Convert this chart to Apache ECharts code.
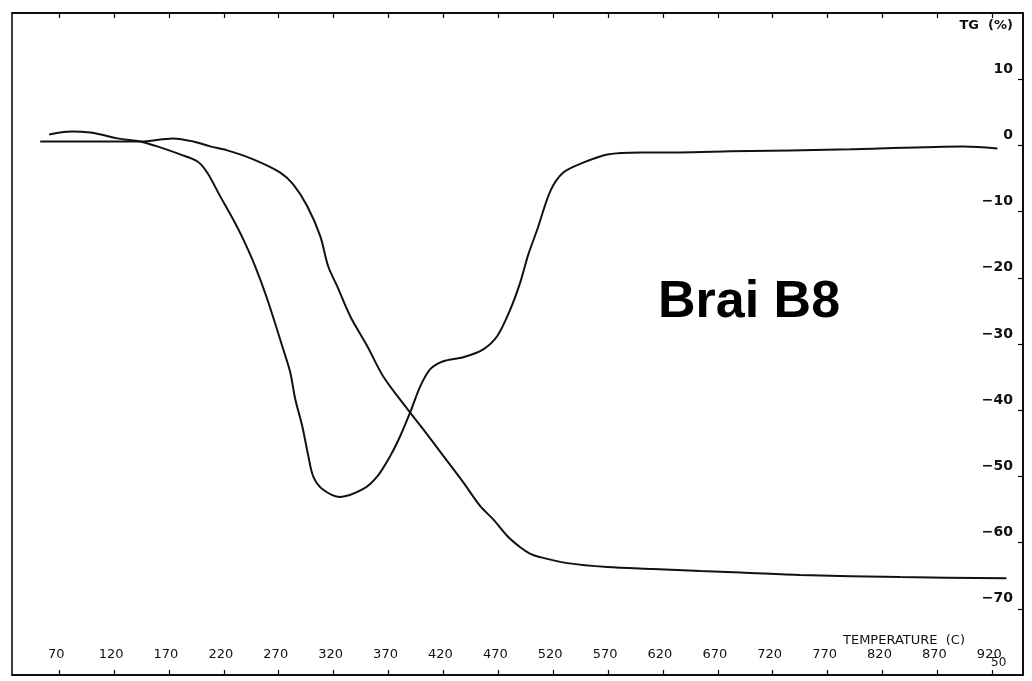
<!DOCTYPE html>
<html>
<head>
<meta charset="utf-8">
<script src="https://cdn.jsdelivr.net/npm/echarts@6/dist/echarts.min.js"></script>
<style>
html,body{margin:0;padding:0;background:#fff;}
#chart{width:1032px;height:681px;}
</style>
</head>
<body>
<div id="chart"></div>
<script>
// TG curve (mass, %) vs temperature (C)
const tgTemp  = [52.7, 70.9, 107.4, 143.8, 173.9, 192.1, 207.6, 223.1, 246.8, 271.4, 283.2, 296.0, 307.8, 315.1, 323.3, 335.1, 350.6, 365.2, 387.1, 401.7, 419.9, 438.1, 453.6, 465.4, 478.2, 490.0, 499.2, 508.3, 532.9, 569.3, 611.2, 654.1, 690.5, 745.2, 836.3, 932.9];
const tgValue = [0.6, 0.6, 0.6, 0.6, 1.06, 0.6, -0.15, -0.75, -2.1, -4.1, -5.9, -9.2, -13.7, -18.3, -21.3, -25.8, -30.3, -34.9, -39.8, -42.9, -46.9, -50.9, -54.5, -56.5, -59.0, -60.7, -61.7, -62.2, -63.1, -63.7, -64.0, -64.3, -64.5, -64.9, -65.2, -65.4];
// DTG-like curve
const dtgTemp  = [60.9, 70.9, 81.8, 98.2, 111.9, 122.8, 143.8, 162.0, 180.2, 195.7, 204.8, 216.7, 228.5, 237.7, 248.6, 259.5, 274.1, 280.5, 285.0, 291.4, 296.9, 301.4, 309.6, 326.0, 347.0, 359.8, 371.6, 380.7, 389.8, 398.9, 408.0, 419.9, 438.1, 456.3, 469.1, 480.9, 490.0, 497.3, 505.5, 517.4, 529.2, 547.4, 569.3, 599.4, 635.8, 681.4, 790.7, 893.7, 924.7];
const dtgValue = [1.66, 1.96, 2.11, 1.96, 1.5, 1.06, 0.6, -0.3, -1.36, -2.4, -4.1, -7.7, -11.2, -14.2, -18.3, -23.2, -30.8, -34.3, -38.3, -42.4, -46.9, -50.0, -51.9, -53.1, -51.9, -50.0, -46.9, -43.9, -40.3, -36.4, -33.8, -32.6, -32.0, -30.8, -28.8, -24.8, -20.7, -16.5, -12.7, -6.9, -4.1, -2.6, -1.36, -1.06, -1.06, -0.9, -0.6, -0.15, -0.45];
// tick labels
const xTickLabels = [70, 120, 170, 220, 270, 320, 370, 420, 470, 520, 570, 620, 670, 720, 770, 820, 870, 920];
const yTickLabels = [10, 0, -10, -20, -30, -40, -50, -60, -70];

const zip = (a, b) => a.map((v, i) => [v, b[i]]);
const chart = echarts.init(document.getElementById('chart'), null, {renderer: 'canvas'});
const lineStyle = {color: '#111', width: 2};
const option = {
  backgroundColor: '#fff',
  animation: false,
  grid: {left: 12, right: 9, top: 13, bottom: 6, show: true, borderColor: '#000', borderWidth: 1.5, containLabel: false},
  xAxis: [{
    type: 'value', min: 27, max: 948, position: 'bottom',
    axisLine: {show: true, onZero: false, lineStyle: {color: '#000', width: 1.5}},
    axisTick: {show: true, inside: true, length: 5, customValues: xTickLabels, lineStyle: {color: '#000', width: 1.2}},
    axisLabel: {show: true, inside: true, margin: 14, customValues: xTickLabels, color: '#111', fontSize: 13, fontFamily: 'DejaVu Sans', padding: [0, 6, 0, 0]},
    splitLine: {show: false}
  }, {
    type: 'value', min: 27, max: 948, position: 'top',
    axisLine: {show: true, onZero: false, lineStyle: {color: '#000', width: 1.5}},
    axisTick: {show: true, inside: true, length: 5, customValues: xTickLabels, lineStyle: {color: '#000', width: 1.2}},
    axisLabel: {show: false},
    splitLine: {show: false}
  }],
  yAxis: [{
    type: 'value', min: -80, max: 20, position: 'right',
    axisLine: {show: true, onZero: false, lineStyle: {color: '#000', width: 1.5}},
    axisTick: {show: true, inside: true, length: 5, customValues: yTickLabels, lineStyle: {color: '#000', width: 1.2}},
    axisLabel: {show: true, inside: true, margin: 10, customValues: yTickLabels, verticalAlign: 'bottom', padding: [0, 0, 3, 0],
      color: '#111', fontSize: 14, fontWeight: 'bold', fontFamily: 'DejaVu Sans',
      formatter: v => String(v).replace('-', '\u2212')},
    splitLine: {show: false}
  }],
  graphic: [
    {type: 'text', right: 19, top: 19, style: {text: 'TG  (%)', font: 'bold 13px "DejaVu Sans"', fill: '#111'}},
    {type: 'text', left: 843, top: 634, style: {text: 'TEMPERATURE  (C)', font: '13px "DejaVu Sans"', fill: '#111'}},
    {type: 'text', left: 991, top: 657, style: {text: '50', font: '12px "DejaVu Sans"', fill: '#111'}},
    {type: 'text', left: 658, top: 277, style: {text: 'Brai B8', font: 'bold 52px "Liberation Sans"', fill: '#000'}}
  ],
  series: [
    {type: 'line', data: zip(tgTemp, tgValue), showSymbol: false, smooth: 0.3, lineStyle: lineStyle, xAxisIndex: 0, yAxisIndex: 0},
    {type: 'line', data: zip(dtgTemp, dtgValue), showSymbol: false, smooth: 0.3, lineStyle: lineStyle, xAxisIndex: 0, yAxisIndex: 0}
  ]
};
chart.setOption(option);
</script>
</body>
</html>
